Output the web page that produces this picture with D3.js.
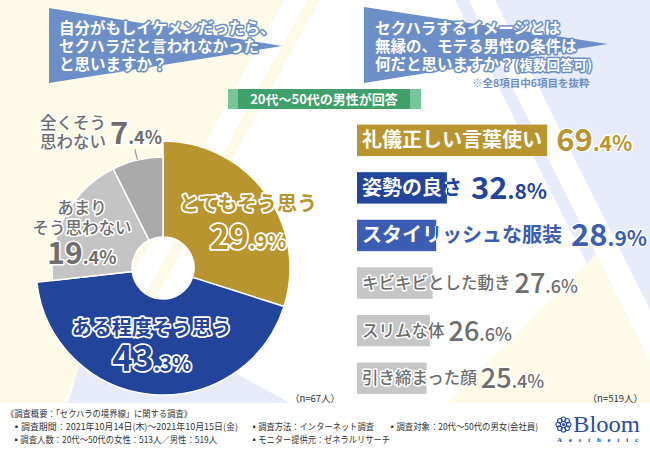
<!DOCTYPE html>
<html><head><meta charset="utf-8">
<script src="https://cdn.jsdelivr.net/npm/d3@7"></script>
<style>
body{margin:0;background:#fff;}
svg{display:block;font-family:"Noto Sans CJK JP","Noto Sans",sans-serif;}
</style></head><body>
<svg id="c" width="650" height="450"></svg>
<script>
// ---------- data ----------
const donutCats = ["とてもそう思う","ある程度そう思う","あまりそう思わない","全くそう思わない"];
const donutVals = [29.9, 43.3, 19.4, 7.4];
const donutN = "（n=67人）";
const barCats = ["礼儀正しい言葉使い","姿勢の良さ","スタイリッシュな服装","キビキビとした動き","スリムな体","引き締まった顔"];
const barVals = [69.4, 32.8, 28.9, 27.6, 26.6, 25.4];
const barN = "（n=519人）";
const title1 = ["自分がもしイケメンだったら、","セクハラだと言われなかった","と思いますか？"];
const title2 = ["セクハラするイメージとは","無縁の、モテる男性の条件は","何だと思いますか？"];
const title2Sub = "(複数回答可)";
const title2Note = "※全8項目中6項目を抜粋";
const respondents = "20代～50代の男性が回答";
const footerHead = "《調査概要：「セクハラの境界線」に関する調査》";
const footerRow1 = ["▪調査期間：2021年10月14日(木)～2021年10月15日(金)","▪調査方法：インターネット調査","▪調査対象：20代～50代の男女(会社員)"];
const footerRow2 = ["▪調査人数：20代～50代の女性：513人／男性：519人","▪モニター提供元：ゼネラルリサーチ"];

// ---------- styles ----------
const C = {gold:"#b8952f", blue:"#23449b", blue2:"#3b5db3", grayL:"#c4c4c4", grayD:"#aaaaaa",
  barGray:"#c6c6c6", text:"#6e6e6e", callout:"#6b8fc6", cream:"#fdfbe8", lav:"#e7ebfa",
  greenD:"#40a06a", greenL:"#77c59b", logo:"#2b4c9b", foot:"#333"};
const svg = d3.select("#c");
const defs = svg.append("defs");

// ---------- background ----------
const bgH = 403;
const bg = svg.append("g");
function poly(g, pts, fill){ g.append("path").attr("d", d3.line()(pts)+"Z").attr("fill", fill); }
poly(bg, [[0,0],[284,0],[284-0.55*bgH,bgH],[0,bgH]], C.cream);
poly(bg, [[307,0],[320,0],[320-0.55*bgH,bgH],[307-0.55*bgH,bgH]], C.cream);
poly(bg, [[68,bgH],[100,300],[290,bgH]], C.lav);
poly(bg, [[455,0],[700,0],[700,bgH],[455+0.5*bgH,bgH]], C.lav);
poly(bg, [[469,0],[495,0],[495+0.5*bgH,bgH],[469+0.5*bgH,bgH]], "#fff");
poly(bg, [[596,254],[650,362],[650,bgH],[447,bgH]], C.cream);

// ---------- callouts ----------
const co = svg.append("g");
poly(co, [[49,8],[49,83],[282,46]], C.callout);
poly(co, [[364,7],[364,83],[608,44]], C.callout);
function titleText(lines, x, y0, sub){
  const t = co.append("text").attr("font-size",15.5).attr("font-weight","bold").attr("fill","#fff")
      .attr("stroke",C.callout).attr("stroke-width",3).attr("stroke-linejoin","round")
      .attr("paint-order","stroke");
  lines.forEach((s,i)=>{ t.append("tspan").attr("x",x).attr("y",y0+i*18.4).text(s); });
  if(sub) t.append("tspan").attr("font-size",13.5).text(sub);
}
titleText(title1, 59, 33.5);
titleText(title2, 375, 33.5, title2Sub);
co.append("text").attr("x",472).attr("y",87).text(title2Note)
  .attr("font-size",10.5).attr("font-weight","bold").attr("fill",C.callout);

// respondents label
const gl = svg.append("g");
gl.append("rect").attr("x",228).attr("y",89).attr("width",193).attr("height",20).attr("fill",C.greenL);
gl.append("rect").attr("x",238).attr("y",89).attr("width",172).attr("height",20).attr("fill",C.greenD);
gl.append("text").attr("x",324).attr("y",104).attr("text-anchor","middle").text(respondents)
  .attr("font-size",13).attr("font-weight","bold").attr("fill","#fff");

// ---------- helpers ----------
function halo(t, fill, sw, weight){
  return t.attr("font-weight",weight||"bold").attr("fill",fill).attr("stroke","#fff").attr("stroke-width",sw||3)
    .attr("stroke-linejoin","round").attr("paint-order","stroke");
}
function numSpans(t, v, big, small, x, y){
  const s = v.toFixed(1).split(".");
  const a = t.append("tspan").attr("font-size",big).text(s[0]);
  if(x!==undefined) a.attr("x",x).attr("y",y);
  t.append("tspan").attr("font-size",small).text("."+s[1]+"%");
}

// ---------- donut ----------
const cx = 163, cy = 268;
const donutFill = [C.gold, C.blue, C.grayL, C.grayD];
const pie = d3.pie().sort(null).value(d=>d)(donutVals);
const arc = d3.arc().innerRadius(31).outerRadius(d => d.index < 2 ? 127 : 111);
const dg = svg.append("g").attr("transform",`translate(${cx},${cy})`);
dg.selectAll("path").data(pie).join("path").attr("d",arc)
  .attr("fill",(d,i)=>donutFill[i]).attr("stroke","#fff").attr("stroke-width",1.5);
const mid = d => (d.startAngle + d.endAngle)/2;
const polar = (a, r) => [r*Math.sin(a), -r*Math.cos(a)];

// slice 0 : gold
{ const p = polar(mid(pie[0]), 98); const ax = p[0]+6, ay = p[1]+10;
  const t = halo(dg.append("text").attr("text-anchor","middle"), C.gold, 3.5);
  t.append("tspan").attr("x",ax).attr("y",ay-9.5).attr("font-size",20).text(donutCats[0]);
  numSpans(t, donutVals[0], 33, 20, ax, ay+28.5); }
// slice 1 : blue
{ const p = polar(mid(pie[1]), 75); const ax = p[0]-4, ay = p[1];
  const t = halo(dg.append("text").attr("text-anchor","middle"), C.blue, 3.5);
  t.append("tspan").attr("x",ax).attr("y",ay-8).attr("font-size",20).text(donutCats[1]);
  numSpans(t, donutVals[1], 35, 20, ax, ay+28); }
// slice 2 : light gray
{ const p = polar(mid(pie[2]), 90); const ax = p[0]-2, ay = p[1]+5;
  const t = halo(dg.append("text").attr("text-anchor","middle"), C.text, 3, 500);
  t.append("tspan").attr("x",ax).attr("y",ay-16.5).attr("font-size",16.5).text(donutCats[2].slice(0,3));
  t.append("tspan").attr("x",ax).attr("y",ay+3.5).attr("font-size",16.5).text(donutCats[2].slice(3));
  const n = halo(dg.append("text").attr("text-anchor","middle"), C.text, 3);
  numSpans(n, donutVals[2], 30, 18, ax, ay+33.5); }
// slice 3 : dark gray, outside label with leader
{ const a = mid(pie[3]); const p1 = polar(a, 111), p2 = polar(a, 122);
  dg.append("line").attr("x1",p1[0]).attr("y1",p1[1]).attr("x2",p2[0]).attr("y2",p2[1])
    .attr("stroke","#999").attr("stroke-width",1.2);
  const t = halo(dg.append("text"), C.text, 3, 500);
  t.append("tspan").attr("x",p2[0]-95).attr("y",p2[1]-20).attr("font-size",16.5).text(donutCats[3].slice(0,4));
  t.append("tspan").attr("x",p2[0]-95).attr("y",p2[1]-1).attr("font-size",16.5).text(donutCats[3].slice(4));
  const n = halo(dg.append("text"), C.text, 3);
  numSpans(n, donutVals[3], 31, 18, p2[0]-25, p2[1]-5.5); }

svg.append("text").attr("x",340).attr("y",402).attr("text-anchor","end").text(donutN)
  .attr("font-size",9.5).attr("fill",C.foot);

// ---------- bars ----------
const bx0 = 357;
const x = d3.scaleLinear().domain([0,100]).range([0,274]);
const y = d3.scaleBand().domain(barCats).range([116.5,402]).paddingInner(0.34).paddingOuter(0.17);
const barFill = [C.gold, C.blue, C.blue2, C.barGray, C.barGray, C.barGray];
const valFill = [C.gold, C.blue, C.blue2, C.text, C.text, C.text];
const bgG = svg.append("g");
function splitGrad(id, pos, c1, c2){
  const g = defs.append("linearGradient").attr("id",id).attr("gradientUnits","userSpaceOnUse")
    .attr("x1",0).attr("x2",650).attr("y1",0).attr("y2",0);
  const o = pos/650;
  g.append("stop").attr("offset",o).attr("stop-color",c1);
  g.append("stop").attr("offset",o).attr("stop-color",c2);
}
barCats.forEach((cat,i)=>{
  const v = barVals[i];
  const by = y(cat), bh = y.bandwidth(), bw = x(v), yc = by + bh/2;
  const g = bgG.append("g");
  g.append("rect").attr("x",bx0).attr("y",by).attr("width",bw).attr("height",bh).attr("fill",barFill[i]);
  if(i < 3){
    splitGrad("gf"+i, bx0+bw, "#fff", barFill[i]);
    splitGrad("gs"+i, bx0+bw, barFill[i], "#fff");
    const t = g.append("text").attr("x",bx0+5).attr("y",yc+7).text(cat).attr("font-size",20)
      .attr("font-weight","bold").attr("fill",`url(#gf${i})`).attr("stroke",`url(#gs${i})`)
      .attr("stroke-width",3).attr("stroke-linejoin","round").attr("paint-order","stroke");
    const len = t.node().getComputedTextLength();
    const vx = Math.max(bx0+bw, bx0+5+len) + 9;
    const n = halo(g.append("text").attr("x",vx).attr("y",yc+11), valFill[i], 3);
    numSpans(n, v, 31, 21);
  } else {
    const t = halo(g.append("text").attr("x",bx0+5).attr("y",yc+6).text(cat).attr("font-size",16.5), C.text, 3, 500);
    const len = t.node().getComputedTextLength();
    const vx = Math.max(bx0+bw, bx0+5+len) + 4;
    const n = halo(g.append("text").attr("x",vx).attr("y",yc+10), valFill[i], 3, 500);
    numSpans(n, v, 27, 18);
  }
});
svg.append("text").attr("x",643).attr("y",402).attr("text-anchor","end").text(barN)
  .attr("font-size",9.5).attr("fill",C.foot);

// ---------- footer ----------
const fg = svg.append("g").attr("font-size",9).attr("fill",C.foot);
function fit(t, w){ const L = t.node().getComputedTextLength(); if(L > w) t.attr("textLength",w).attr("lengthAdjust","spacingAndGlyphs"); return t; }
fit(fg.append("text").attr("x",6).attr("y",417).text(footerHead), 186);
const colX = [12, 250, 388], colW1 = [226, 124, 150], colW2 = [205, 140];
footerRow1.forEach((t,i)=> fit(fg.append("text").attr("x",colX[i]).attr("y",430).text(t), colW1[i]));
footerRow2.forEach((t,i)=> fit(fg.append("text").attr("x",colX[i]).attr("y",443).text(t), colW2[i]));

// ---------- logo ----------
const lg = svg.append("g").attr("transform","translate(563.5,424.5)");
d3.range(8).forEach(k=>{
  const a = k*Math.PI/4, p = polar(a, 5.2);
  lg.append("circle").attr("cx",p[0]).attr("cy",p[1]).attr("r",2.3).attr("fill","none").attr("stroke",C.logo).attr("stroke-width",1.1);
});
lg.append("circle").attr("r",1.6).attr("fill",C.logo);
svg.append("text").attr("x",573).attr("y",432).text("Bloom").attr("font-family","'Liberation Serif','DejaVu Serif',serif")
  .attr("font-size",23).attr("fill",C.logo).attr("textLength",67).attr("lengthAdjust","spacingAndGlyphs");
svg.append("text").attr("x",557).attr("y",442).text("Aesthetic").attr("font-family","'Liberation Serif','DejaVu Serif',serif")
  .attr("font-size",7).attr("font-weight","bold").attr("fill",C.logo).attr("textLength",81).attr("lengthAdjust","spacing");
</script>
</body></html>
